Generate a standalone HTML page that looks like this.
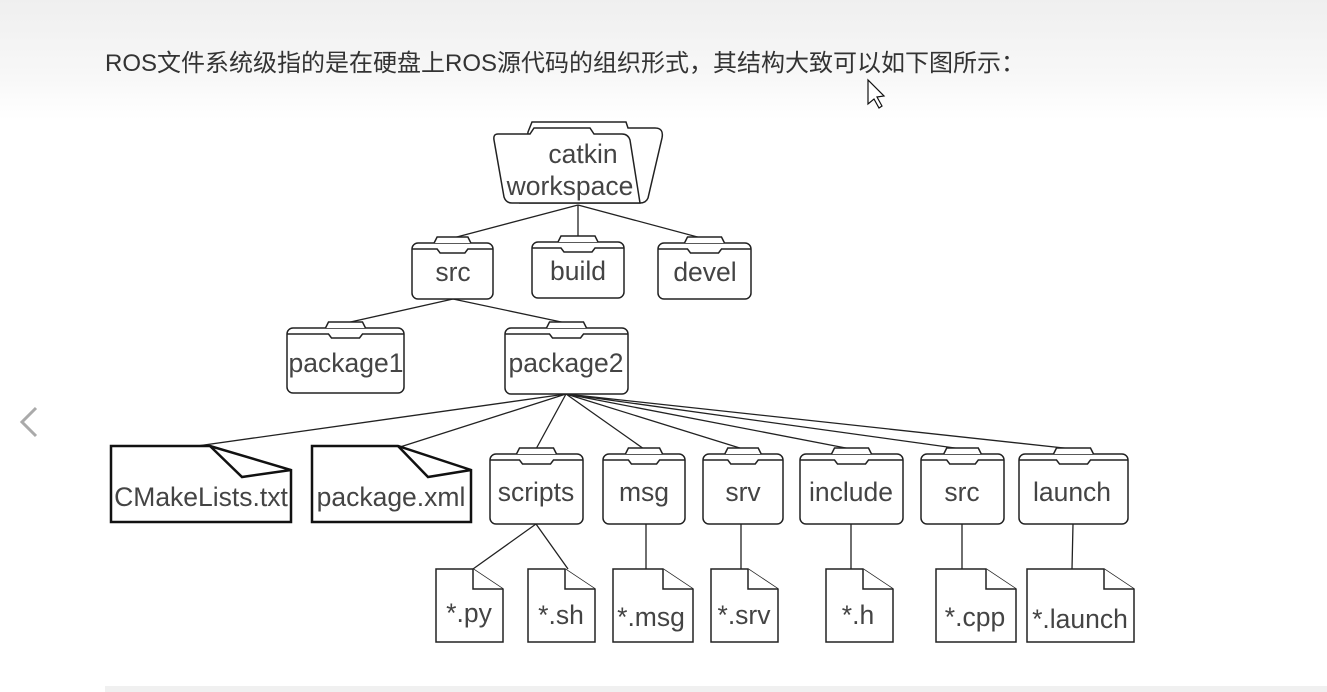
<!DOCTYPE html>
<html><head><meta charset="utf-8">
<style>
html,body{margin:0;padding:0;width:1327px;height:692px;overflow:hidden;background:#fff;}
.bg{position:absolute;left:0;top:0;width:1327px;height:120px;background:linear-gradient(#efefef,#f7f7f7 60%,#fff);}
.hd{position:absolute;left:105px;top:43px;font:24px "Liberation Sans","Noto Sans CJK SC",sans-serif;color:#333;letter-spacing:0px;white-space:nowrap;}
.bot{position:absolute;left:105px;top:686px;width:1222px;height:6px;background:#f0f0f0;}
svg{position:absolute;left:0;top:0;}
text{font-family:"Liberation Sans",sans-serif;font-size:26.5px;fill:#444;text-anchor:middle;}
</style></head><body>
<div class="bg"></div>
<div class="hd">ROS文件系统级指的是在硬盘上ROS源代码的组织形式，其结构大致可以如下图所示：</div>
<div class="bot"></div>
<svg width="1327" height="692" viewBox="0 0 1327 692">
<g id="g" fill="none" stroke="#222" stroke-width="1.4"></g>
<g stroke="#222" stroke-width="1.3" fill="none">
<path d="M578 205L453 238M578 205V238M578 205L705 239"/>
<path d="M453 299L346 323M453 299L566 323"/>
<path d="M566 394L190 447M566 394L400 447M566 394L536 449M566 394L644 449M566 394L743 449M566 394L851 449M566 394L962 449M566 394L1073 449"/>
<path d="M536 524L473 569M536 524L568 569M646 524V569M741 524V569M851 524V569M962 524V569M1073 524L1072 569"/>
</g>
<g fill="#fff" stroke="#222" stroke-width="1.5">
<path d="M528 132L532 122H626L628 128H655Q664 128 662 138L648 198Q646 203 640 203H520Z"/>
<path d="M498 134H530L534 128H590L594 134H622Q628 134 630 140L640 203H512Q506 203 504 197L494 140Q493 134 498 134Z"/>
</g>
<g fill="#fff" stroke="#111" stroke-width="2.5" stroke-linejoin="miter">
<path d="M111 446H210L291 470V522H111Z"/><path d="M210 446L242 477L291 470" fill="none"/>
<path d="M312 446H398L471 470V522H312Z"/><path d="M398 446L428 477L471 470" fill="none"/>
</g>
<g id="f" fill="#fff" stroke="#222" stroke-width="1.5"></g>
<text x="583" y="163">catkin</text>
<text x="570" y="195">workspace</text>
<text x="453" y="281">src</text>
<text x="578" y="280">build</text>
<text x="705" y="281">devel</text>
<text x="346" y="372">package1</text>
<text x="566" y="372">package2</text>
<text x="201" y="506">CMakeLists.txt</text>
<text x="391" y="506">package.xml</text>
<text x="536" y="501">scripts</text>
<text x="644" y="501">msg</text>
<text x="743" y="501">srv</text>
<text x="851" y="501">include</text>
<text x="962" y="501">src</text>
<text x="1072" y="501">launch</text>
<text x="469" y="622">*.py</text>
<text x="561" y="624">*.sh</text>
<text x="651" y="626">*.msg</text>
<text x="744" y="624">*.srv</text>
<text x="858" y="624">*.h</text>
<text x="975" y="626">*.cpp</text>
<text x="1080" y="628">*.launch</text>
<path d="M868 80V104L874 99L879 108L882 106L877 97L884 96Z" fill="#fff" stroke="#111" stroke-width="1.2"/>
<path d="M36 408L22 422L36 436" fill="none" stroke="#aaa" stroke-width="3"/>
</svg>
<script>
var g=document.getElementById('g'),f=document.getElementById('f'),s='';
function folder(x,y,w,h){var cx=x+w/2,tw=Math.min(34,w*0.38),a=cx-tw/2,b=cx+tw/2;
s+='<rect x="'+x+'" y="'+(y+6)+'" width="'+w+'" height="'+(h-6)+'" rx="6" fill="#fff"/>';
s+='<path d="M'+(a-3)+' '+(y+6)+'L'+a+' '+y+'H'+b+'L'+(b+3)+' '+(y+6)+'" />';
s+='<path d="M'+x+' '+(y+12)+'H'+a+'L'+(a+3)+' '+(y+16)+'H'+(b-3)+'L'+b+' '+(y+12)+'H'+(x+w)+'" />';}
[[412,237,81,62],[532,236,92,62],[658,237,93,62],[287,322,117,71],[505,322,123,72],
[490,448,93,76],[603,448,82,76],[703,448,80,76],[800,448,103,76],[921,448,83,76],[1019,448,109,76]].forEach(function(a){folder.apply(null,a)});
function file(x,y,w,h){var c=Math.min(30,w*0.45),d=20;
s+='<path d="M'+x+' '+y+'H'+(x+w-c)+'L'+(x+w)+' '+(y+d)+'V'+(y+h)+'H'+x+'Z" fill="#fff"/>';
s+='<path d="M'+(x+w-c)+' '+y+'V'+(y+d)+'H'+(x+w)+'"/>';}
[[436,569,67,73],[528,569,67,73],[613,569,80,73],[711,569,67,73],[826,569,67,73],[936,569,80,73],[1027,569,107,73]].forEach(function(a){file.apply(null,a)});
f.innerHTML=s;
</script>
</body></html>
